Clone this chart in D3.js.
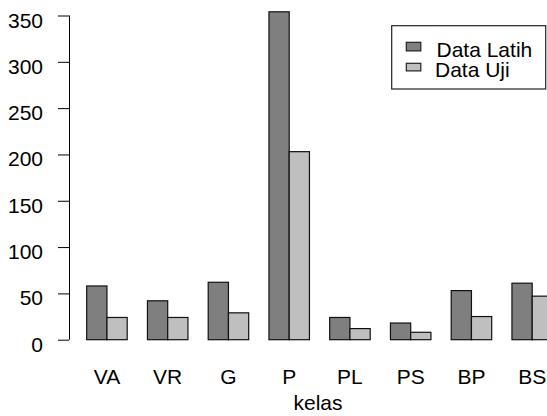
<!DOCTYPE html>
<html>
<head>
<meta charset="utf-8">
<script src="https://cdn.jsdelivr.net/npm/d3@7"></script>
<style>
  body { margin: 0; background: #fff; }
  text { font-family: "Liberation Sans", Arial, sans-serif; fill: #000; }
</style>
</head>
<body>
<div class="js-vis"></div>
<script>
const kelas = ['VA', 'VR', 'G', 'P', 'PL', 'PS', 'BP', 'BS']
const dataLatih = [58, 42, 62, 354, 24, 18, 53, 61]
const dataUji = [24, 24, 29, 203, 12, 8, 25, 47]
const seriesNames = ['Data Latih', 'Data Uji']
const seriesColors = ['#7f7f7f', '#bfbfbf']
const yTicks = [0, 50, 100, 150, 200, 250, 300, 350]

const width = 547, height = 416

const rows = kelas.map((k, i) => ({ kelas: k, values: [dataLatih[i], dataUji[i]] }))

const svg = d3.select('.js-vis').append('svg')
    .attr('width', width)
    .attr('height', height)

// group step ~60.75px, bars take 2/3 of each step (R barplot beside, space=c(0,1))
const step = 60.75
const x0 = d3.scaleBand()
  .domain(kelas)
  .range([86.7, 86.7 + kelas.length * step - step / 3])
  .paddingInner(1 / 3)
  .paddingOuter(0)

const x1 = d3.scaleBand()
  .domain([0, 1])
  .range([0, x0.bandwidth()])

const y = d3.scaleLinear()
  .domain([0, 350])
  .range([339.7, 15.5])

// bars
const groups = svg.selectAll('.group')
  .data(rows)
.enter().append('g')
  .attr('class', 'group')
  .attr('transform', d => 'translate(' + x0(d.kelas) + ',0)')

groups.selectAll('rect')
  .data(d => d.values)
.enter().append('rect')
  .attr('x', (d, i) => x1(i))
  .attr('y', d => y(d))
  .attr('width', x1.bandwidth())
  .attr('height', d => y(0) - y(d))
  .attr('fill', (d, i) => seriesColors[i])
  .attr('stroke', '#111')
  .attr('stroke-width', 1.2)

// x labels
groups.append('text')
  .attr('x', x0.bandwidth() / 2)
  .attr('y', 384)
  .attr('text-anchor', 'middle')
  .style('font-size', '21px')
  .text(d => d.kelas)

svg.append('text')
  .attr('x', 318)
  .attr('y', 410)
  .attr('text-anchor', 'middle')
  .style('font-size', '21px')
  .text('kelas')

// y axis
const yax = d3.axisLeft(y)
  .tickValues(yTicks)
  .tickSize(11)
  .tickPadding(15)

const ya = svg.append('g')
  .attr('transform', 'translate(69,0)')
  .call(yax)

ya.select('.domain').attr('d', 'M0.5,' + y(0) + 'V' + y(350)).attr('stroke', '#000')
ya.selectAll('.tick line').attr('stroke', '#000')
ya.selectAll('.tick text')
  .attr('dy', null)
  .attr('y', 11.5)
  .style('font-size', '21px')
  .style('font-family', '"Liberation Sans", Arial, sans-serif')
  .attr('fill', '#000')

// legend
const legend = svg.append('g')

legend.append('rect')
  .attr('x', 391.7)
  .attr('y', 25.7)
  .attr('width', 154)
  .attr('height', 63.3)
  .attr('fill', '#fff')
  .attr('stroke', '#222')
  .attr('stroke-width', 1.2)

const legendRows = [
  { name: seriesNames[0], sy: 42.3, sh: 8.6, tx: 436.5, ty: 56.7 },
  { name: seriesNames[1], sy: 63.3, sh: 7.6, tx: 435, ty: 77.3 }
]

legend.selectAll('.sw')
  .data(legendRows)
.enter().append('rect')
  .attr('class', 'sw')
  .attr('x', 406.3)
  .attr('y', d => d.sy)
  .attr('width', 14.5)
  .attr('height', d => d.sh)
  .attr('fill', (d, i) => seriesColors[i])
  .attr('stroke', '#222')
  .attr('stroke-width', 1.2)

legend.selectAll('.lt')
  .data(legendRows)
.enter().append('text')
  .attr('class', 'lt')
  .attr('x', d => d.tx)
  .attr('y', d => d.ty)
  .style('font-size', '21px')
  .text(d => d.name)
</script>
</body>
</html>
